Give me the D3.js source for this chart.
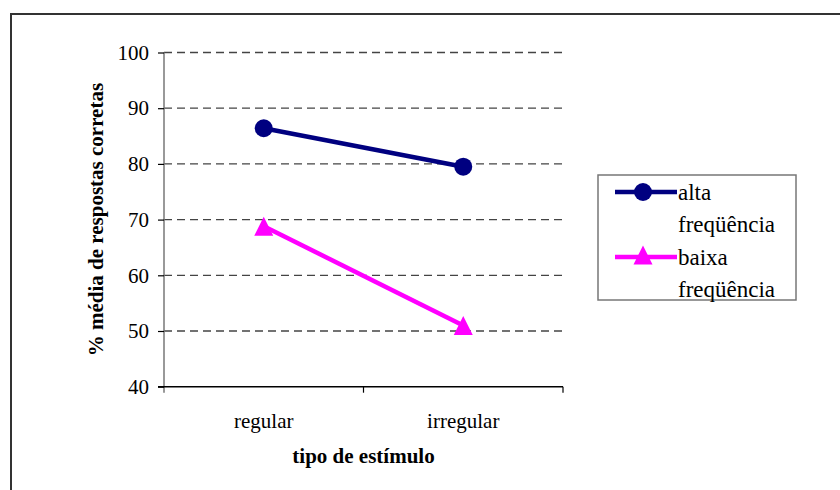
<!DOCTYPE html>
<html>
<head>
<meta charset="utf-8">
<script src="https://cdn.jsdelivr.net/npm/d3@7"></script>
<style>
  html, body { margin: 0; padding: 0; background: #fff; }
  svg { display: block; }
  svg text { font-family: "Liberation Serif", "Times New Roman", serif; }
</style>
</head>
<body>
<svg id="chart" width="840" height="490"></svg>
<script>
// Stimulus type categories on the x axis
const categories = ["regular", "irregular"];
// Mean % correct responses per frequency group
const altaValues = [86.4, 79.5];
const baixaValues = [68.8, 51.0];
const seriesNames = [["alta", "freqüência"], ["baixa", "freqüência"]];
const yTicks = [40, 50, 60, 70, 80, 90, 100];

const FONT = "'Liberation Serif', 'Times New Roman', serif";
const svg = d3.select("#chart");

// Outer frame (continues past the right and bottom edges)
svg.append("rect")
  .attr("x", 11).attr("y", 14)
  .attr("width", 900).attr("height", 600)
  .attr("fill", "none").attr("stroke", "#333").attr("stroke-width", 2);

const plot = { left: 164, right: 563, top: 52.5, bottom: 386.7 };

const x = d3.scaleBand().domain(categories).range([plot.left, plot.right]);
const xc = d => x(d) + x.bandwidth() / 2;
const y = d3.scaleLinear().domain([40, 100]).range([plot.bottom, plot.top]);

// Dashed horizontal gridlines
svg.append("g").selectAll("line")
  .data(yTicks.filter(t => t > 40))
  .join("line")
  .attr("x1", plot.left).attr("x2", plot.right)
  .attr("y1", d => y(d)).attr("y2", d => y(d))
  .attr("stroke", "#444").attr("stroke-width", 1.3)
  .attr("stroke-dasharray", "8,5");

// Y axis
const yAxis = svg.append("g")
  .attr("transform", `translate(${plot.left},0)`)
  .call(d3.axisLeft(y).tickValues(yTicks).tickSize(6).tickPadding(9).tickSizeOuter(0));
yAxis.attr("font-family", FONT);
yAxis.select(".domain").attr("stroke", "#777").attr("stroke-width", 1.5)
  .attr("d", `M0,${plot.top}V${plot.bottom + 6}`);
yAxis.selectAll(".tick line").attr("stroke", "#000").attr("stroke-width", 1.2);
yAxis.selectAll(".tick text")
  .attr("font-family", FONT)
  .attr("font-size", 21).attr("fill", "#000");

// X axis
const xAxis = svg.append("g")
  .attr("transform", `translate(0,${plot.bottom})`)
  .call(d3.axisBottom(x).tickSize(0).tickPadding(26).tickSizeOuter(0));
xAxis.attr("font-family", FONT);
xAxis.select(".domain").attr("stroke", "#000").attr("stroke-width", 1.5)
  .attr("d", `M${plot.left - 6},0H${plot.right}`);
xAxis.selectAll(".tick text")
  .attr("font-family", FONT)
  .attr("font-size", 21).attr("fill", "#000");
// Category boundary ticks
xAxis.append("g").selectAll("line")
  .data(categories)
  .join("line")
  .attr("x1", d => x(d) + x.bandwidth()).attr("x2", d => x(d) + x.bandwidth())
  .attr("y1", 0).attr("y2", 6)
  .attr("stroke", "#000").attr("stroke-width", 1.2);

// Axis titles
svg.append("text")
  .attr("x", (plot.left + plot.right) / 2).attr("y", 463)
  .attr("text-anchor", "middle")
  .attr("font-family", FONT)
  .attr("font-weight", "bold").attr("font-size", 21)
  .text("tipo de estímulo");

svg.append("text")
  .attr("transform", `translate(103,${(plot.top + plot.bottom) / 2}) rotate(-90)`)
  .attr("text-anchor", "middle")
  .attr("font-family", FONT)
  .attr("font-weight", "bold").attr("font-size", 21)
  .text("% média de respostas corretas");

const navy = "#000080";
const magenta = "#ff00ff";
const line = d3.line().x((d, i) => xc(categories[i])).y(d => y(d));
const tri = s => `M0,${-s / 2}L${s / 2},${s / 2}L${-s / 2},${s / 2}Z`;

// alta frequência series
svg.append("path").datum(altaValues)
  .attr("d", line).attr("fill", "none")
  .attr("stroke", navy).attr("stroke-width", 4.5);
svg.append("g").selectAll("circle").data(altaValues).join("circle")
  .attr("cx", (d, i) => xc(categories[i])).attr("cy", d => y(d))
  .attr("r", 9).attr("fill", navy);

// baixa frequência series
svg.append("path").datum(baixaValues)
  .attr("d", line).attr("fill", "none")
  .attr("stroke", magenta).attr("stroke-width", 4.5);
svg.append("g").selectAll("path").data(baixaValues).join("path")
  .attr("transform", (d, i) => `translate(${xc(categories[i])},${y(d)})`)
  .attr("d", tri(19)).attr("fill", magenta);

// Legend
const legend = svg.append("g");
legend.append("rect")
  .attr("x", 598).attr("y", 175).attr("width", 198).attr("height", 125)
  .attr("fill", "#fff").attr("stroke", "#777").attr("stroke-width", 1.5);

const entries = [
  { color: navy, names: seriesNames[0], ly: 192, marker: "circle" },
  { color: magenta, names: seriesNames[1], ly: 257, marker: "triangle" }
];
entries.forEach(e => {
  legend.append("line")
    .attr("x1", 615).attr("x2", 677).attr("y1", e.ly).attr("y2", e.ly)
    .attr("stroke", e.color).attr("stroke-width", 4.5);
  if (e.marker === "circle") {
    legend.append("circle").attr("cx", 643).attr("cy", e.ly).attr("r", 9).attr("fill", e.color);
  } else {
    legend.append("path").attr("transform", `translate(643,${e.ly - 2})`)
      .attr("d", tri(19)).attr("fill", e.color);
  }
  e.names.forEach((n, k) => {
    legend.append("text")
      .attr("x", 678).attr("y", e.ly + 8 + k * 32)
      .attr("font-family", FONT)
      .attr("font-size", 23).attr("fill", "#000")
      .text(n);
  });
});
</script>
</body>
</html>
